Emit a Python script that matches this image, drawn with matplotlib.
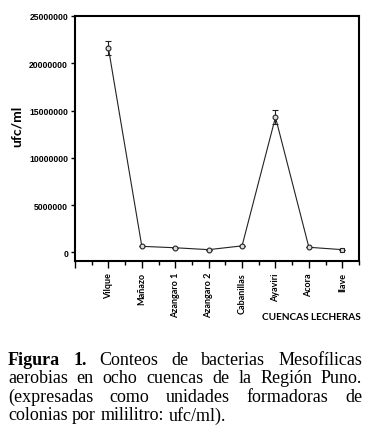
import matplotlib
matplotlib.use("Agg")
import matplotlib.pyplot as plt
import numpy as np

categories = ["Vilque", "Mañazo", "Azangaro 1", "Azangaro 2", "Cabanillas", "Ayaviri", "Acora", "Ilave"]
values = [21600000, 650000, 500000, 300000, 700000, 14300000, 550000, 300000]
errors = [750000, 0, 0, 0, 0, 750000, 0, 0]
yticks = [0, 5000000, 10000000, 15000000, 20000000, 25000000]

W, H = 371, 435
fig = plt.figure(figsize=(W / 100, H / 100), dpi=100)
ax = fig.add_axes([75 / W, 1 - 262 / H, (359 - 75) / W, (262 - 17) / H])

x = np.arange(len(categories))
ax.plot(x, values, color="#222222", lw=0.8, zorder=2)
ax.errorbar(x, values, yerr=errors, fmt="none", ecolor="#222222", elinewidth=0.8,
            capsize=2, capthick=0.8, zorder=2)
markers = ["o"] * 7 + ["s"]
for xi, v, m in zip(x, values, markers):
    ax.plot(xi, v, marker=m, ms=3.5, mfc="#dddddd", mec="#222222", mew=0.8, zorder=3)

ax.set_xlim(-1, 7.5)
ax.set_ylim(-900000, 25000000)
ax.set_yticks(yticks)
ax.set_yticklabels([str(t) for t in yticks], fontfamily="Liberation Sans",
                   fontweight="bold", fontsize=6.2)
ax.set_xticks(np.arange(-1, 8))
ax.set_xticklabels([""] + categories, rotation=90, fontfamily="Lato",
                   fontweight="bold", fontsize=6.5)
ax.set_xticks(np.arange(-0.5, 8, 1), minor=True)
ax.tick_params(axis="x", which="major", direction="out", length=5, width=1, pad=3)
ax.tick_params(axis="x", which="minor", direction="out", length=3, width=1)
ax.tick_params(axis="y", which="major", direction="out", length=3, width=1, pad=2)
for s in ax.spines.values():
    s.set_linewidth(1.5)

fig.text(17 / W, 1 - 126 / H, "ufc/ml", rotation=90, ha="center", va="center",
         fontfamily="Lato", fontweight="bold", fontsize=10)
fig.text(361 / W, 1 - 318 / H, "CUENCAS LECHERAS", ha="right", va="center",
         fontfamily="Lato", fontweight="bold", fontsize=7.2)

# Caption with justified lines
lines = [
    [("Figura", True), ("1.", True), ("Conteos", False), ("de", False), ("bacterias", False), ("Mesofílicas", False)],
    [("aerobias", False), ("en", False), ("ocho", False), ("cuencas", False), ("de", False), ("la", False), ("Región", False), ("Puno.", False)],
    [("(expresadas", False), ("como", False), ("unidades", False), ("formadoras", False), ("de", False)],
    [("colonias", False), ("por", False), ("mililitro:", False), ("ufc/ml).", False)],
]
cap_fs = 13
x0, x1 = 8, 362
baselines = [365, 383.5, 402, 420.5]
fig.canvas.draw()
renderer = fig.canvas.get_renderer()
sp = fig.text(0, 0, "a a", fontfamily="Liberation Serif", fontsize=cap_fs)
sp2 = fig.text(0, 0, "aa", fontfamily="Liberation Serif", fontsize=cap_fs)
space_w = sp.get_window_extent(renderer).width - sp2.get_window_extent(renderer).width
sp.remove(); sp2.remove()
for li, (line, yb) in enumerate(zip(lines, baselines)):
    objs = []
    for word, bold in line:
        t = fig.text(0, 1 - yb / H, word, fontfamily="Liberation Serif",
                     fontweight="bold" if bold else "normal", fontsize=cap_fs,
                     va="baseline", ha="left")
        objs.append(t)
    widths = [o.get_window_extent(renderer).width for o in objs]
    if li < len(lines) - 1:
        gap = (x1 - x0 - sum(widths)) / (len(objs) - 1)
    else:
        gap = space_w
    cx = x0
    for o, w in zip(objs, widths):
        o.set_x(cx / W)
        cx += w + gap

fig.savefig("out.png", dpi=100)
